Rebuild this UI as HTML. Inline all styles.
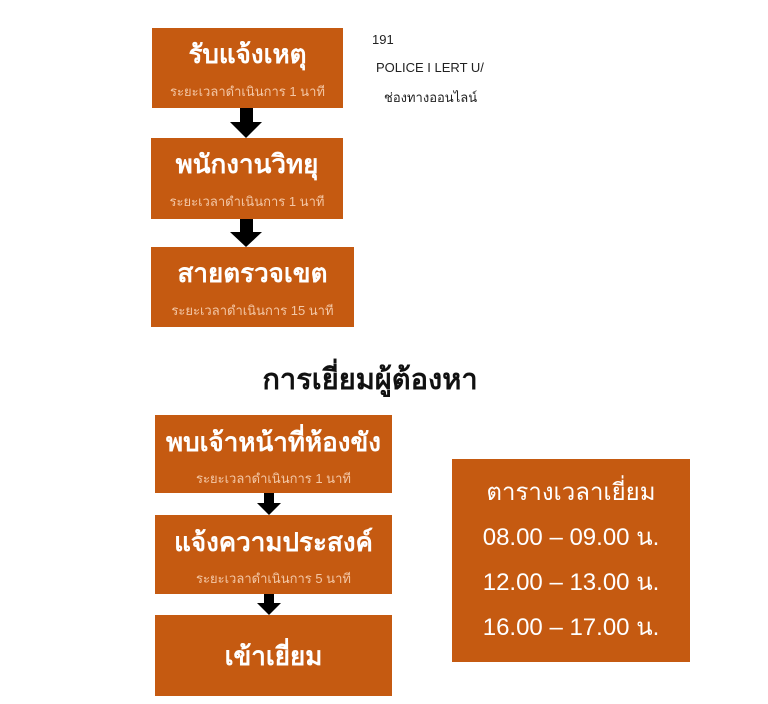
<!DOCTYPE html>
<html><head><meta charset="utf-8"><style>
body{margin:0;width:768px;height:704px;background:#fff;position:relative;overflow:hidden;font-family:"Liberation Sans","Noto Sans CJK SC",sans-serif}
.b{position:absolute;background:#C55A11;color:#fff;text-align:center;box-sizing:border-box}
.t{font-weight:bold;font-size:26px;line-height:30px}
.s{font-size:13px;color:#f3c7a6;line-height:16px}
.a{position:absolute}
.p{position:absolute;font-size:13px;color:#222}
</style></head><body>
<div class="b" style="left:152px;top:28px;width:191px;height:80px"><div class="t" style="margin-top:11px">รับแจ้งเหตุ</div><div class="s" style="margin-top:15px">ระยะเวลาดำเนินการ 1 นาที</div></div>
<div class="b" style="left:151px;top:138px;width:192px;height:81px"><div class="t" style="margin-top:11px">พนักงานวิทยุ</div><div class="s" style="margin-top:15px">ระยะเวลาดำเนินการ 1 นาที</div></div>
<div class="b" style="left:151px;top:247px;width:203px;height:80px"><div class="t" style="margin-top:11px">สายตรวจเขต</div><div class="s" style="margin-top:15px">ระยะเวลาดำเนินการ 15 นาที</div></div>
<svg class="a" style="left:0;top:0" width="768" height="704">
<polygon points="240,108 253,108 253,122 262,122 246,138 230,122 240,122" fill="#000"/>
<polygon points="240,219 253,219 253,232 262,232 246,247 230,232 240,232" fill="#000"/>
<polygon points="264,493 274,493 274,503 281,503 269,515 257,503 264,503" fill="#000"/>
<polygon points="264,594 274,594 274,603 281,603 269,615 257,603 264,603" fill="#000"/>
</svg>
<div class="p" style="left:372px;top:32px">191</div>
<div class="p" style="left:376px;top:60px">POLICE I LERT U/</div>
<div class="p" style="left:384px;top:87px">ช่องทางออนไลน์</div>
<div style="position:absolute;left:0;width:740px;top:356px;text-align:center;font-size:29px;font-weight:bold;color:#111">การเยี่ยมผู้ต้องหา</div>
<div class="b" style="left:155px;top:415px;width:237px;height:78px"><div class="t" style="margin-top:12px">พบเจ้าหน้าที่ห้องขัง</div><div class="s" style="margin-top:14px">ระยะเวลาดำเนินการ 1 นาที</div></div>
<div class="b" style="left:155px;top:515px;width:237px;height:79px"><div class="t" style="margin-top:12px">แจ้งความประสงค์</div><div class="s" style="margin-top:14px">ระยะเวลาดำเนินการ 5 นาที</div></div>
<div class="b" style="left:155px;top:615px;width:237px;height:81px"><div class="t" style="margin-top:26px">เข้าเยี่ยม</div></div>
<div class="b" style="left:452px;top:459px;width:238px;height:203px;font-size:24px">
<div style="margin-top:19px;line-height:30px">ตารางเวลาเยี่ยม</div>
<div style="margin-top:14px;line-height:32px">08.00 – 09.00 น.</div>
<div style="margin-top:13px;line-height:32px">12.00 – 13.00 น.</div>
<div style="margin-top:13px;line-height:32px">16.00 – 17.00 น.</div>
</div>
</body></html>
